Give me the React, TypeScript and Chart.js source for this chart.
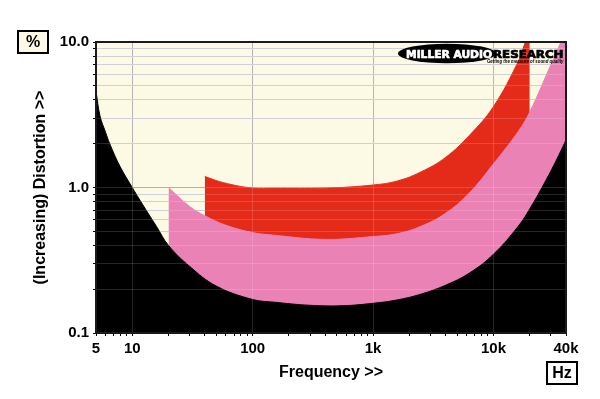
import React, { useEffect, useRef } from 'react';
import { Chart, registerables } from 'chart.js';

Chart.register(...registerables);

// ---- data ----
// lower black "noise floor" region boundary
const floorFreq = [5, 5.4, 6, 6.5, 7.9, 10, 12, 15.9, 20, 30, 50, 100, 150, 300, 560, 1000, 1600, 2500, 4000, 6300, 10000, 16000, 20000, 27400, 33000, 40000];
const floorPct = [4.6, 3.1, 2.4, 2.0, 1.4, 1.0, 0.78, 0.54, 0.40, 0.287, 0.21, 0.17, 0.163, 0.155, 0.154, 0.16, 0.169, 0.185, 0.213, 0.258, 0.348, 0.54, 0.713, 1.13, 1.52, 2.12];

// pink band upper boundary
const pinkFreq = [20, 30, 40, 60, 100, 150, 400, 1000, 1600, 2500, 4000, 6300, 10000, 16000, 20000, 27400, 37000, 40000];
const pinkPct = [1.0, 0.74, 0.64, 0.55, 0.49, 0.47, 0.44, 0.46, 0.482, 0.541, 0.665, 0.918, 1.456, 2.42, 3.3, 5.9, 10.4, 12.5];

// red band upper boundary
const redFreq = [40, 57, 100, 150, 400, 1000, 1600, 2500, 4000, 6300, 10000, 16000, 18000, 20000];
const redPct = [1.19, 1.08, 0.99, 0.985, 0.99, 1.04, 1.11, 1.28, 1.61, 2.28, 3.6, 7.3, 9.5, 12];

// axes
const xTickValues = [5, 6, 7, 8, 9, 10, 20, 30, 40, 50, 60, 70, 80, 90, 100, 200, 300, 400, 500, 600, 700, 800, 900, 1000, 2000, 3000, 4000, 5000, 6000, 7000, 8000, 9000, 10000, 20000, 30000, 40000];
const xTickLabels: Record<number, string> = { 5: '5', 10: '10', 100: '100', 1000: '1k', 10000: '10k', 40000: '40k' };
const xGridMajor = [10, 100, 1000, 10000];
const yTickValues = [0.1, 0.2, 0.3, 0.4, 0.5, 0.6, 0.7, 0.8, 0.9, 1, 2, 3, 4, 5, 6, 7, 8, 9, 10];
const yTickLabels: Record<number, string> = { 0.1: '0.1', 1: '1.0', 10: '10.0' };
const yGridMajor = [0.1, 1, 10];

const CREAM = '#fcfae4';
const PINK = '#ea82b5';
const RED = '#e42a19';
const FONT = '"Liberation Sans", Arial, sans-serif';

const decorPlugin = {
  id: 'decor',
  beforeDraw(chart: any) {
    const { ctx, chartArea: a } = chart;
    ctx.save();
    ctx.fillStyle = CREAM;
    ctx.fillRect(a.left, a.top, a.right - a.left, a.bottom - a.top);
    ctx.restore();
  },
  afterDatasetsDraw(chart: any) {
    const { ctx, chartArea: a } = chart;
    const xs = chart.scales.x;
    const ys = chart.scales.y;
    ctx.save();
    ctx.beginPath();
    ctx.rect(a.left, a.top, a.right - a.left, a.bottom - a.top);
    ctx.clip();
    ctx.strokeStyle = 'rgba(255,255,255,0.15)';
    ctx.lineWidth = 1;
    ctx.beginPath();
    for (const v of yTickValues) {
      const y = Math.round(ys.getPixelForValue(v) - 0.5) + 0.5;
      ctx.moveTo(a.left, y);
      ctx.lineTo(a.right, y);
    }
    for (const v of xGridMajor) {
      const x = Math.round(xs.getPixelForValue(v) - 0.5) + 0.5;
      ctx.moveTo(x, a.top);
      ctx.lineTo(x, a.bottom);
    }
    ctx.stroke();
    ctx.restore();
  },
  afterDraw(chart: any) {
    const { ctx, chartArea: a } = chart;
    ctx.save();
    // plot frame
    ctx.strokeStyle = '#1a1a1a';
    ctx.lineWidth = 2;
    ctx.strokeRect(a.left, a.top, a.right - a.left, a.bottom - a.top);

    // logo
    ctx.fillStyle = '#000';
    ctx.beginPath();
    ctx.ellipse(447, 53.5, 49, 9.8, 0, 0, Math.PI * 2);
    ctx.fill();
    const fitText = (text: string, font: string, x: number, y: number, w: number, color: string, stroke: number) => {
      ctx.save();
      ctx.font = font;
      ctx.fillStyle = color;
      ctx.strokeStyle = color;
      ctx.textAlign = 'left';
      ctx.textBaseline = 'alphabetic';
      const mw = ctx.measureText(text).width;
      ctx.translate(x, y);
      ctx.scale(w / mw, 1);
      ctx.fillText(text, 0, 0);
      if (stroke > 0) {
        ctx.lineWidth = stroke;
        ctx.lineJoin = 'round';
        ctx.strokeText(text, 0, 0);
      }
      ctx.restore();
    };
    fitText('MILLER AUDIO', 'bold 10.5px "DejaVu Sans"', 406, 57.5, 86, '#fff', 0.7);
    fitText('RESEARCH', 'bold 10.5px "DejaVu Sans"', 493, 57.5, 70.5, '#000', 0.7);
    fitText('Getting the measure of sound quality', 'italic bold 5px ' + FONT, 487, 63, 76.5, '#000', 0);

    // unit boxes
    ctx.lineWidth = 2;
    ctx.strokeStyle = '#000';
    ctx.fillStyle = CREAM;
    ctx.fillRect(18, 31, 30, 22);
    ctx.strokeRect(18, 31, 30, 22);
    ctx.fillStyle = '#fff';
    ctx.fillRect(547, 362, 30, 22);
    ctx.strokeRect(547, 362, 30, 22);
    ctx.fillStyle = '#000';
    ctx.font = 'bold 16px ' + FONT;
    ctx.textAlign = 'center';
    ctx.textBaseline = 'middle';
    ctx.fillText('%', 33, 42.5);
    ctx.fillText('Hz', 562, 373.5);
    ctx.restore();
  },
};

export default function App() {
  const ref = useRef<HTMLCanvasElement>(null);

  useEffect(() => {
    const canvas = ref.current;
    if (!canvas) return;
    const mk = (fs: number[], vs: number[]) => fs.map((f, i) => ({ x: f, y: vs[i] }));
    const band = (label: string, fs: number[], vs: number[], color: string) => ({
      label,
      data: mk(fs, vs),
      borderColor: color,
      backgroundColor: color,
      borderWidth: 1,
      pointRadius: 0,
      fill: 'start',
      tension: 0.4,
    });
    const chart = new Chart(canvas, {
      type: 'line',
      data: {
        datasets: [
          band('floor', floorFreq, floorPct, '#000000'),
          band('pink', pinkFreq, pinkPct, PINK),
          band('red', redFreq, redPct, RED),
        ],
      },
      options: {
        animation: false,
        responsive: false,
        devicePixelRatio: 1,
        layout: { padding: { top: 42, right: 34, bottom: 0, left: 0 } },
        plugins: {
          legend: { display: false },
          tooltip: { enabled: false },
        },
        scales: {
          x: {
            type: 'logarithmic',
            min: 5,
            max: 40000,
            afterBuildTicks: (s: any) => {
              s.ticks = xTickValues.map((v) => ({ value: v }));
            },
            afterFit: (s: any) => {
              s.height = 66;
            },
            ticks: {
              autoSkip: false,
              maxRotation: 0,
              minRotation: 0,
              padding: 4,
              color: '#000',
              font: { family: FONT, size: 15, weight: 'bold' },
              callback: (v: any) => xTickLabels[Number(v)] ?? '',
            },
            grid: {
              color: (c: any) => (xGridMajor.includes(c.tick?.value) ? '#a8a8a8' : 'rgba(0,0,0,0)'),
              tickColor: '#000',
              tickLength: 3,
              lineWidth: 1,
            },
            border: { display: false },
            title: {
              display: true,
              text: 'Frequency >>',
              color: '#000',
              font: { family: FONT, size: 16, weight: 'bold' },
              padding: { top: 0, bottom: 17 },
            },
          },
          y: {
            type: 'logarithmic',
            min: 0.1,
            max: 10,
            afterBuildTicks: (s: any) => {
              s.ticks = yTickValues.map((v) => ({ value: v }));
            },
            afterFit: (s: any) => {
              s.width = 96;
            },
            ticks: {
              autoSkip: false,
              padding: 4,
              color: '#000',
              font: { family: FONT, size: 15, weight: 'bold' },
              callback: (v: any) => yTickLabels[Number(v)] ?? '',
            },
            grid: {
              color: (c: any) => (yGridMajor.includes(c.tick?.value) ? '#a4a4a8' : '#c8c8d2'),
              tickColor: '#000',
              tickLength: 3,
              lineWidth: 1,
            },
            border: { display: false },
            title: {
              display: true,
              text: '(Increasing) Distortion >>',
              color: '#000',
              font: { family: FONT, size: 16, weight: 'bold' },
              padding: { top: 31, bottom: 0 },
            },
          },
        },
      } as any,
      plugins: [decorPlugin],
    });
    return () => chart.destroy();
  }, []);

  return (
    <div style={{ position: 'fixed', left: 0, top: 0, width: 600, height: 399, background: '#fff' }}>
      <canvas ref={ref} width={600} height={399} style={{ display: 'block', width: 600, height: 399 }} />
    </div>
  );
}
